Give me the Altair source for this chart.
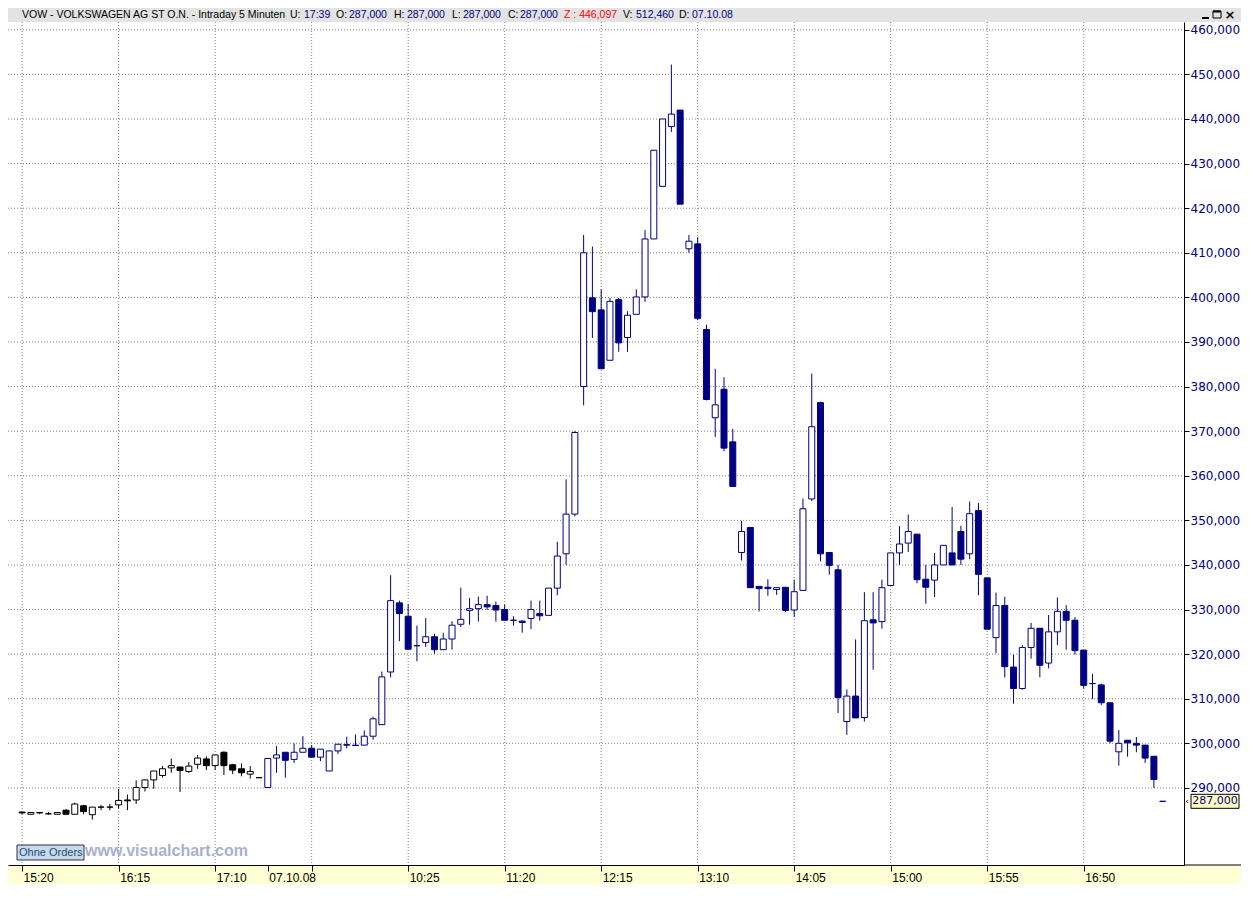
import altair as alt
import pandas as pd

# VW ordinary share, 5-minute candles
# bars 1-28: 06.10.08 15:20-17:35, bars 29-131: 07.10.08 09:05-17:35
opens = [
    284.6, 284.1, 284.5, 284.2, 284.1, 285.0, 284.1, 286.0, 284.0, 285.7,
    285.7, 286.2, 287.3, 287.3, 290.1, 291.8, 292.8, 294.5, 294.7, 293.7,
    295.3, 296.5, 295.0, 298.0, 295.2, 294.3, 293.1, 292.3, 290.1, 296.7,
    298.0, 296.4, 298.0, 298.9, 296.9, 293.8, 298.3, 299.7, 299.6, 299.6,
    301.6, 304.2, 316.0, 331.5, 328.5, 321.9, 322.6, 323.9, 321.0, 323.4,
    326.7, 329.8, 330.2, 331.1, 330.9, 330.0, 327.6, 327.4, 328.0, 329.1,
    328.7, 334.8, 342.5, 351.4, 380.0, 399.9, 397.2, 385.9, 399.5, 391.0,
    396.2, 400.1, 413.1, 424.9, 438.3, 442.0, 410.9, 412.0, 392.8, 373.0,
    379.4, 367.6, 342.8, 348.4, 335.2, 335.0, 334.5, 335.0, 329.9, 334.3,
    354.8, 376.4, 342.8, 338.9, 304.9, 310.6, 305.8, 327.7, 327.3, 335.4,
    342.7, 344.9, 346.9, 336.8, 336.6, 340.0, 342.7, 347.5, 342.5, 352.2,
    337.1, 323.7, 330.9, 317.1, 312.3, 321.5, 325.8, 318.0, 325.0, 329.6,
    327.6, 320.9, 313.4, 313.1, 309.1, 298.1, 300.7, 300.0, 299.6, 297.1,
    287.0,
]
highs = [
    284.6, 284.5, 284.5, 284.6, 284.5, 285.3, 286.7, 286.2, 285.7, 286.2,
    286.4, 289.8, 288.5, 291.7, 291.9, 293.8, 294.9, 296.6, 294.7, 295.8,
    297.4, 297.1, 297.4, 298.2, 295.4, 295.5, 294.9, 292.3, 296.6, 299.4,
    298.0, 300.0, 301.6, 299.6, 298.7, 298.3, 299.8, 301.5, 302.0, 302.9,
    306.0, 316.1, 337.7, 332.0, 331.2, 326.4, 328.1, 324.6, 324.8, 327.4,
    334.9, 332.6, 332.9, 333.1, 331.8, 331.1, 328.5, 327.6, 332.0, 332.0,
    334.8, 345.2, 359.2, 370.0, 414.0, 411.4, 401.8, 399.9, 399.9, 396.9,
    401.8, 415.1, 433.0, 440.0, 452.2, 442.0, 414.0, 413.5, 393.9, 384.0,
    382.1, 370.5, 349.9, 348.4, 335.2, 336.8, 335.0, 335.0, 336.7, 354.9,
    382.9, 376.6, 342.8, 340.0, 312.1, 323.3, 333.9, 333.9, 336.7, 342.7,
    348.7, 351.3, 346.9, 340.0, 342.7, 344.4, 353.0, 348.8, 354.2, 353.9,
    337.1, 333.8, 332.9, 319.9, 322.0, 327.0, 325.8, 328.8, 332.7, 331.0,
    328.3, 320.9, 315.6, 313.4, 309.1, 303.0, 300.7, 301.4, 299.6, 297.1,
    287.0,
]
lows = [
    284.1, 284.1, 284.1, 284.0, 284.1, 284.1, 284.1, 284.1, 282.9, 285.0,
    285.0, 285.4, 285.0, 286.4, 289.2, 289.8, 292.3, 293.4, 289.1, 293.4,
    294.3, 294.0, 294.0, 292.9, 293.1, 292.6, 292.1, 292.3, 290.0, 293.4,
    292.3, 295.6, 298.0, 296.9, 296.0, 293.8, 297.6, 298.9, 299.5, 299.6,
    300.8, 304.2, 314.8, 322.9, 321.1, 318.4, 321.6, 320.1, 321.0, 321.0,
    326.1, 326.6, 327.3, 329.9, 327.3, 327.6, 326.4, 324.8, 325.6, 327.5,
    328.7, 333.2, 340.0, 350.9, 375.8, 390.9, 384.0, 385.9, 387.8, 387.8,
    396.2, 399.0, 413.1, 424.9, 437.1, 420.9, 410.0, 394.9, 376.9, 368.7,
    365.5, 357.6, 341.0, 334.9, 329.6, 333.1, 333.3, 329.4, 328.4, 334.3,
    354.3, 340.8, 337.8, 306.8, 301.9, 305.7, 304.9, 316.5, 325.7, 335.4,
    340.0, 342.9, 335.9, 331.3, 332.8, 340.0, 340.0, 340.0, 341.3, 333.2,
    325.6, 320.2, 314.8, 308.9, 312.0, 319.0, 314.8, 316.8, 322.0, 321.0,
    319.9, 312.3, 309.9, 308.6, 300.0, 295.0, 297.0, 298.0, 295.6, 290.0,
    287.0,
]
closes = [
    284.4, 284.5, 284.4, 284.2, 284.5, 284.1, 286.4, 284.7, 285.7, 285.7,
    285.7, 287.2, 287.1, 290.1, 291.8, 293.8, 294.3, 295.0, 293.9, 294.9,
    296.7, 295.0, 297.4, 295.0, 294.0, 293.4, 293.7, 292.3, 296.6, 297.4,
    296.2, 298.0, 298.9, 296.9, 298.7, 298.3, 299.8, 299.6, 299.5, 301.6,
    305.5, 314.9, 332.0, 329.1, 321.1, 321.9, 323.9, 321.0, 323.4, 326.5,
    327.8, 330.2, 331.1, 330.6, 329.9, 327.6, 327.6, 327.1, 330.0, 328.6,
    334.8, 342.0, 351.4, 369.7, 410.0, 396.8, 384.0, 399.1, 389.8, 396.0,
    400.1, 413.1, 433.0, 440.0, 441.1, 420.9, 412.6, 395.3, 377.1, 375.9,
    366.2, 357.6, 347.5, 334.9, 334.7, 334.7, 334.9, 329.8, 334.0, 352.6,
    371.0, 342.5, 339.9, 310.3, 310.6, 305.7, 327.5, 327.0, 334.9, 342.7,
    344.7, 347.5, 336.7, 335.0, 340.0, 344.4, 340.0, 341.3, 351.5, 337.9,
    325.6, 330.9, 317.2, 312.3, 321.5, 325.8, 317.5, 325.0, 329.6, 327.6,
    320.8, 313.0, 313.4, 309.1, 300.5, 300.0, 300.1, 299.6, 296.7, 291.9,
    287.0,
]
days = ["06.10.08"] * 28 + ["07.10.08"] * 103

y_ticks = [290, 300, 310, 320, 330, 340, 350, 360, 370, 380, 390, 400,
           410, 420, 430, 440, 450, 460]
x_grid = [1, 12, 23, 34, 45, 56, 67, 78, 89, 100, 111, 122]
x_ticks = [1, 12, 23, 29, 34, 45, 56, 67, 78, 89, 100, 111, 122]
x_labels = ["15:20", "16:15", "17:10", "07.10.08", "", "10:25", "11:20",
            "12:15", "13:10", "14:05", "15:00", "15:55", "16:50"]

header = [
    ("VOW - VOLKSWAGEN AG ST O.N. - Intraday 5 Minuten", "black"),
    ("U:", "black"), ("17:39", "navy"),
    ("O:", "black"), ("287,000", "navy"),
    ("H:", "black"), ("287,000", "navy"),
    ("L:", "black"), ("287,000", "navy"),
    ("C:", "black"), ("287,000", "navy"),
    ("Z : 446,097", "red"),
    ("V:", "black"), ("512,460", "navy"),
    ("D:", "black"), ("07.10.08", "navy"),
]
header_x = [14, 282, 296, 328, 341, 386, 399, 444, 455, 500, 512, 556, 615, 628, 671, 684]

assert len(opens) == len(highs) == len(lows) == len(closes) == len(days) == 131

W, H = 1176, 843
TOP, BOTTOM, RIGHT = 14, 19, 57
TW = W + RIGHT
NAVY = "#000080"
COLORS = {"black": "#000000", "navy": NAVY, "red": "#FF0000"}

df = pd.DataFrame({
    "bar": range(1, len(opens) + 1),
    "open": opens, "high": highs, "low": lows, "close": closes, "day": days,
})
df["kind"] = [d + (" up" if c > o else " down") for d, o, c in zip(days, opens, closes)]

xscale = alt.Scale(domain=[-0.04, 132.86], nice=False, zero=False)
yscale = alt.Scale(domain=[272.72, 461.75], nice=False, zero=False)
day_scale = alt.Scale(domain=["06.10.08", "07.10.08"], range=["#000000", NAVY])
kind_scale = alt.Scale(
    domain=["06.10.08 up", "06.10.08 down", "07.10.08 up", "07.10.08 down"],
    range=["#FFFFFF", "#000000", "#FFFFFF", NAVY],
)

label_expr = "".join(f"datum.value == {v} ? '{t}' : " for v, t in zip(x_ticks, x_labels)) + "''"

# the same axis objects go on every layer so Vega-Lite merges them into one
x_axis = alt.Axis(
    values=x_ticks, labelExpr=label_expr, title=None, grid=False,
    domainColor="black", tickColor="black", tickSize=6,
    labelAlign="left", labelBaseline="top", labelPadding=1, labelOffset=1,
    labelFont="Liberation Sans", labelFontSize=12, labelColor="black",
    labelFlush=False, labelOverlap=False, zindex=1,
)
y_axis = alt.Axis(
    orient="right", values=y_ticks, title=None, grid=False,
    labelExpr="replace(format(datum.value, '.3f'), '.', ',')",
    domainColor="black", tickColor="black", tickSize=5, labelPadding=1,
    labelFont="DejaVu Sans", labelFontSize=12, labelColor=NAVY, zindex=1,
)

one = pd.DataFrame({"k": [0]})


def box(x, x2, y, y2, **kw):
    return alt.Chart(one).mark_rect(**kw).encode(
        x=alt.value(x), x2=alt.value(x2), y=alt.value(y), y2=alt.value(y2)
    )


def text(t, x, y, color="black", size=10.5, font="Liberation Sans", **kw):
    return alt.Chart(one).mark_text(
        text=t, font=font, fontSize=size, color=color,
        align=kw.pop("align", "left"), baseline=kw.pop("baseline", "middle"), **kw
    ).encode(x=alt.value(x), y=alt.value(y))


band = box(0, TW, H, H + BOTTOM, color="#FFFFD4")
head = box(0, TW, -TOP, 0, color="#E3E3E3")
axis_ext = alt.Chart(one).mark_rule(color="black").encode(
    x=alt.value(W), x2=alt.value(TW), y=alt.value(H)
)

hgrid = alt.Chart(pd.DataFrame({"v": y_ticks})).mark_rule(
    color="#808080", strokeDash=[1, 2]
).encode(y=alt.Y("v:Q", scale=yscale, axis=y_axis), x=alt.value(0), x2=alt.value(W))
vgrid = alt.Chart(pd.DataFrame({"bar": x_grid})).mark_rule(
    color="#808080", strokeDash=[1, 2]
).encode(x=alt.X("bar:Q", scale=xscale, axis=x_axis), y=alt.value(0), y2=alt.value(H))

wicks = alt.Chart(df).mark_rule(strokeWidth=1).encode(
    x=alt.X("bar:Q", scale=xscale, axis=x_axis),
    y=alt.Y("low:Q", scale=yscale, axis=y_axis),
    y2="high:Q",
    stroke=alt.Stroke("day:N", scale=day_scale, legend=None),
)
bodies = alt.Chart(df).mark_bar(size=6, strokeWidth=1).encode(
    x=alt.X("bar:Q", scale=xscale, axis=x_axis),
    y=alt.Y("open:Q", scale=yscale, axis=y_axis),
    y2="close:Q",
    fill=alt.Fill("kind:N", scale=kind_scale, legend=None),
    stroke=alt.Stroke("day:N", scale=day_scale, legend=None),
)

header_layers = [text(t, x, -7, COLORS[c]) for (t, c), x in zip(header, header_x)]
buttons = [
    alt.Chart(one).mark_rule(color="black", strokeWidth=2).encode(
        x=alt.value(TW - 39), x2=alt.value(TW - 32), y=alt.value(-4)
    ),
    box(TW - 28, TW - 20, -11, -4, fill="none", stroke="black", strokeWidth=1),
    alt.Chart(one).mark_rule(color="black", strokeWidth=2).encode(
        x=alt.value(TW - 28), x2=alt.value(TW - 20), y=alt.value(-10.5)
    ),
    text("×", TW - 11, -7, size=13, font="DejaVu Sans", fontWeight="bold", align="center"),
]

orders = [
    box(9, 76, H - 20, H - 5, fill="#C9D9F2", stroke="#333333", strokeWidth=1),
    text("Ohne Orders", 11, H - 12, "#21506A", size=11),
    text("www.visualchart.com", 77, H - 9, "#A9AFCD", size=16,
         fontWeight="bold", baseline="alphabetic"),
]

last = closes[-1]
last_label = f"{last:.3f}".replace(".", ",")
last_y = alt.YDatum(last, type="quantitative", scale=yscale, axis=y_axis)
price_tag = [
    alt.Chart(one).mark_rect(
        fill="#FFFFC0", stroke="black", strokeWidth=1, yOffset=-7, y2Offset=7
    ).encode(x=alt.value(W + 7), x2=alt.value(W + 55), y=last_y, y2=alt.Y2Datum(last)),
    alt.Chart(one).mark_text(
        text=last_label, font="DejaVu Sans", fontSize=11, color=NAVY, baseline="middle"
    ).encode(x=alt.value(W + 31), y=last_y),
    alt.Chart(one).mark_text(
        text="‹", font="DejaVu Sans", fontSize=9, color="black", baseline="middle"
    ).encode(x=alt.value(W + 3), y=last_y),
]

chart = alt.layer(
    band, head, axis_ext, hgrid, vgrid, wicks, bodies,
    *header_layers, *buttons, *orders, *price_tag,
).properties(
    width=W, height=H,
    padding={"left": 0, "top": TOP, "right": RIGHT, "bottom": BOTTOM},
    autosize=alt.AutoSizeParams(type="none"),
    background="white",
).configure_view(stroke=None)

chart.save("out.html", embed_options={"renderer": "svg", "actions": False})
